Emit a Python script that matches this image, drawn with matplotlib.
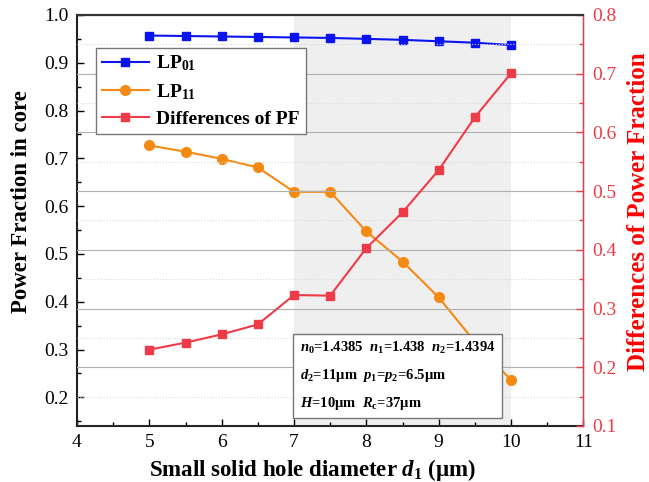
"""Power fraction in core vs. small solid hole diameter."""

import matplotlib
matplotlib.use("Agg")
import matplotlib.pyplot as plt
from matplotlib.ticker import MultipleLocator

plt.rcParams["font.family"] = ["Liberation Serif", "DejaVu Serif"]
plt.rcParams["mathtext.fontset"] = "custom"
plt.rcParams["mathtext.rm"] = "Liberation Serif:bold"
plt.rcParams["mathtext.it"] = "Liberation Serif:italic:bold"
plt.rcParams["mathtext.bf"] = "Liberation Serif:bold"

# data
d1 = [5.0, 5.5, 6.0, 6.5, 7.0, 7.5, 8.0, 8.5, 9.0, 9.5, 10.0]
pf_lp01 = [0.957, 0.956, 0.955, 0.954, 0.953, 0.952, 0.950, 0.948, 0.945, 0.942, 0.937]
pf_lp11 = [0.727, 0.714, 0.699, 0.681, 0.630, 0.630, 0.547, 0.484, 0.409, 0.316, 0.236]
pf_diff = [0.230, 0.242, 0.256, 0.273, 0.323, 0.322, 0.403, 0.464, 0.536, 0.626, 0.701]
shade_range = (7, 10)

BLUE = "#0a14f0"
ORANGE = "#f58a12"
RED = "#ee3b48"

fig = plt.figure(figsize=(6.49, 4.82), dpi=100)
ax = fig.add_axes([0.1186, 0.1162, 0.7804, 0.8527])
ax2 = ax.twinx()

ax.axvspan(*shade_range, color="#efefef", zorder=0, lw=0)

l1, = ax.plot(d1, pf_lp01, "-s", color=BLUE, ms=6, lw=1.5, label="LP$_{01}$")
l2, = ax.plot(d1, pf_lp11, "-o", color=ORANGE, ms=7, lw=1.5, label="LP$_{11}$")
l3, = ax2.plot(d1, pf_diff, "-s", color=RED, ms=6, lw=1.5, label="Differences of PF")

ax.set_xlim(4, 11)
ax.set_ylim(0.14, 1.0)
ax2.set_ylim(0.1, 0.8)

ax.xaxis.set_major_locator(MultipleLocator(1))
ax.xaxis.set_minor_locator(MultipleLocator(0.5))
ax.yaxis.set_major_locator(MultipleLocator(0.1))
ax.yaxis.set_minor_locator(MultipleLocator(0.05))
ax2.yaxis.set_major_locator(MultipleLocator(0.1))
ax2.yaxis.set_minor_locator(MultipleLocator(0.05))
ax.yaxis.set_major_formatter(lambda v, p: f"{v:.1f}")
ax2.yaxis.set_major_formatter(lambda v, p: f"{v:.1f}")

ax.tick_params(axis="both", which="both", direction="in", labelsize=14)
ax.tick_params(which="major", length=5, width=1)
ax.tick_params(which="minor", length=3, width=1)
ax.tick_params(axis="x", pad=6)
ax.tick_params(axis="y", pad=6)
ax2.tick_params(axis="y", which="both", direction="in", labelsize=14,
                colors=RED, pad=6)
ax2.tick_params(which="major", length=5, width=1)
ax2.tick_params(which="minor", length=3, width=1)

ax2.grid(True, which="major", axis="y", color="#b0b0b0", lw=0.8)
ax2.grid(True, which="minor", axis="y", color="#d8d8d8", lw=0.8, ls=":")

for s in ("left", "bottom", "top"):
    ax.spines[s].set_color("#222222")
    ax.spines[s].set_linewidth(1.5)
ax2.spines["right"].set_color(RED)
ax2.spines["right"].set_linewidth(1.0)
ax2.spines["top"].set_color("#333333")
ax2.spines["top"].set_linewidth(1.5)
ax2.spines["left"].set_visible(False)
ax2.spines["bottom"].set_visible(False)

ax.set_xlabel("Small solid hole diameter $d_1$ (μm)", fontsize=16.5,
              fontweight="bold")
ax.xaxis.set_label_coords(0.465, -0.075)
ax.set_ylabel("Power Fraction in core", fontsize=16.5, fontweight="bold")
ax.yaxis.set_label_coords(-0.088, 0.545)
ax2.set_ylabel("Differences of Power Fraction", fontsize=18,
               fontweight="bold", color="red")
ax2.yaxis.set_label_coords(1.085, 0.522)

leg = ax2.legend(handles=[l1, l2, l3], loc="upper left",
                 bbox_to_anchor=(0.038, 0.92), borderaxespad=0,
                 fancybox=False, framealpha=1, edgecolor="#777777",
                 prop={"family": "Liberation Serif", "weight": "bold", "size": 14},
                 handlelength=2.4, handletextpad=0.4, labelspacing=0.45,
                 borderpad=0.3)
leg.get_frame().set_linewidth(1.0)
leg.set_zorder(10)

note = ("$n_0$=1.4385  $n_1$=1.438  $n_2$=1.4394\n"
        "$d_2$=11μm  $p_1$=$p_2$=6.5μm\n"
        "$H$=10μm  $R_\\mathrm{c}$=37μm")
ax2.text(0.44, 0.035, note, transform=ax2.transAxes, fontsize=10.5,
         fontweight="bold", linespacing=1.9, va="bottom", ha="left",
         zorder=11,
         bbox=dict(boxstyle="square,pad=0.45", fc="white", ec="#777777", lw=1.0))

fig.savefig("out.png", dpi=100)
